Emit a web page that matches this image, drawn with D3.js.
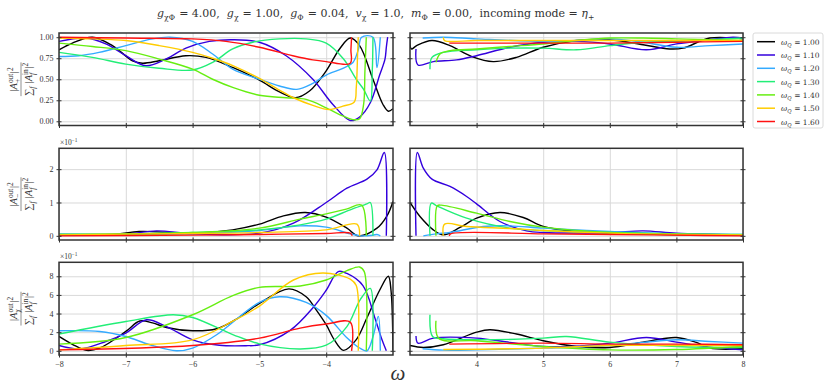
<!DOCTYPE html>
<html>
<head>
<meta charset="utf-8">
<script src="https://cdn.jsdelivr.net/npm/d3@7"></script>
<style>
  body { margin: 0; background: #fff; }
  text { font-family: "Liberation Serif", serif; fill: #333; white-space: pre; }
  .wide text { font-family: "DejaVu Serif", serif; }
</style>
</head>
<body>
<div id="chart"></div>
<script>
// scattering ratios vs omega, one curve per omega_Q

var omegaQ = ["1.00", "1.10", "1.20", "1.30", "1.40", "1.50", "1.60"];
var colors = ["#000000", "#3300dd", "#33aaff", "#22ee77", "#66ee11", "#ffcc00", "#ff1111"];

var leftTicks = [-8, -7, -6, -5, -4];
var rightTicks = [4, 5, 6, 7, 8];

// |A+out|^2 / sum |Ain|^2 , omega < 0
var plusLeft = [
  [[-8,0.85],[-7.8,0.93],[-7.5,1.0],[-7.2,0.9],[-6.9,0.72],[-6.75,0.69],[-6.5,0.72],[-6.1,0.78],[-5.8,0.76],[-5.4,0.64],[-5,0.49],[-4.7,0.35],[-4.46,0.28],[-4.25,0.36],[-4,0.6],[-3.8,0.86],[-3.64,0.99],[-3.5,0.9],[-3.3,0.5],[-3.15,0.2],[-3.07,0.12],[-3.0,0.15]],
  [[-8,0.95],[-7.6,0.99],[-7.3,0.92],[-7,0.78],[-6.7,0.66],[-6.4,0.74],[-6.1,0.87],[-5.75,0.95],[-5.4,0.97],[-5,0.94],[-4.6,0.78],[-4.2,0.5],[-3.9,0.2],[-3.64,0.01],[-3.5,0.05],[-3.34,0.22],[-3.2,0.55],[-3.12,0.74],[-3.1,0.88],[-3.08,1.0]],
  [[-8,0.77],[-7.7,0.78],[-7.4,0.82],[-7,0.9],[-6.6,0.98],[-6.34,1.0],[-6,0.95],[-5.7,0.8],[-5.4,0.62],[-5,0.5],[-4.7,0.42],[-4.44,0.38],[-4.2,0.45],[-4,0.55],[-3.75,0.63],[-3.6,0.7],[-3.52,0.85],[-3.47,1.0],[-3.3,1.0],[-3.24,0.64],[-3.19,1.0]],
  [[-8,0.82],[-7.5,0.76],[-7,0.68],[-6.5,0.63],[-6,0.61],[-5.7,0.7],[-5.4,0.86],[-5.1,0.94],[-4.7,0.98],[-4.3,0.98],[-4,0.93],[-3.74,0.74],[-3.55,0.5],[-3.44,0.38],[-3.34,0.24],[-3.31,0.6],[-3.3,1.0]],
  [[-8,0.93],[-7.5,0.89],[-7,0.84],[-6.5,0.74],[-6,0.62],[-5.7,0.5],[-5.39,0.4],[-5,0.31],[-4.6,0.28],[-4.3,0.26],[-4,0.16],[-3.8,0.08],[-3.6,0.02],[-3.5,0.03],[-3.44,0.2],[-3.42,0.6],[-3.4,1.0]],
  [[-8,0.99],[-7.5,0.98],[-7,0.96],[-6.5,0.9],[-6,0.82],[-5.7,0.75],[-5.39,0.66],[-5,0.51],[-4.7,0.37],[-4.49,0.28],[-4.2,0.19],[-3.96,0.14],[-3.75,0.18],[-3.58,0.23],[-3.55,0.4],[-3.53,0.8],[-3.52,1.0]],
  [[-8,1.0],[-7,0.99],[-6,0.98],[-5.5,0.95],[-5,0.88],[-4.5,0.78],[-4.2,0.73],[-4,0.71],[-3.64,0.69],[-3.63,0.85],[-3.62,1.0]]
];

// |A+out|^2 / sum |Ain|^2 , omega > 0
var plusRight = [
  [[3.0,1.0],[3.02,0.86],[3.1,0.9],[3.33,0.96],[3.6,0.9],[3.93,0.77],[4.25,0.71],[4.6,0.76],[5,0.88],[5.5,0.96],[6,0.97],[6.5,0.91],[6.9,0.86],[7.1,0.87],[7.5,0.99],[8,0.98]],
  [[3.09,0.86],[3.12,0.67],[3.35,0.71],[3.7,0.73],[4,0.78],[4.5,0.88],[5,0.94],[5.5,0.95],[6,0.92],[6.55,0.85],[7,0.92],[7.5,0.97],[7.85,1.0],[8,0.99]],
  [[3.19,0.99],[3.5,1.0],[4,0.98],[5,0.95],[5.5,0.96],[6,0.98],[6.5,0.94],[7,0.88],[7.5,0.9],[8,0.92]],
  [[3.3,0.62],[3.33,0.76],[3.5,0.82],[4,0.85],[4.5,0.87],[5,0.87],[5.5,0.85],[6,0.9],[6.5,0.94],[7,0.95],[7.5,0.97],[8,0.99]],
  [[3.39,0.7],[3.45,0.8],[3.6,0.84],[4,0.86],[4.5,0.89],[5,0.92],[5.5,0.96],[6,0.99],[6.5,0.99],[7,0.98],[7.5,0.97],[8,0.96]],
  [[3.5,1.0],[3.52,0.96],[4,0.96],[5,0.96],[6,0.96],[7,0.96],[8,0.96]],
  [[3.59,0.93],[4,0.93],[5,0.93],[6,0.93],[7,0.94],[8,0.95]]
];

// |A-out|^2 / sum |Ain|^2 (x 10^-1)
var minusLeft = [
  [[-8,0.02],[-7.2,0.04],[-6.8,0.13],[-6.4,0.11],[-6,0.08],[-5.4,0.18],[-5,0.35],[-4.64,0.6],[-4.31,0.7],[-4,0.56],[-3.69,0.23],[-3.52,0.0],[-3.24,0.23],[-3.09,0.6],[-3.0,1.03]],
  [[-8,0.02],[-7,0.05],[-6.54,0.15],[-6,0.06],[-5,0.08],[-4.49,0.38],[-4,1.0],[-3.69,1.43],[-3.39,1.7],[-3.24,1.98],[-3.13,2.5],[-3.1,0.0]],
  [[-8,0.06],[-6,0.06],[-5,0.16],[-4.39,0.3],[-4,0.26],[-3.64,0.06],[-3.48,0.0],[-3.3,0.02],[-3.24,0.04],[-3.19,0.0]],
  [[-8,0.04],[-7,0.05],[-6,0.1],[-5,0.18],[-4.39,0.33],[-4,0.5],[-3.64,0.78],[-3.39,0.96],[-3.34,1.0],[-3.3,0.0]],
  [[-8,0.04],[-7,0.06],[-6,0.1],[-5,0.23],[-4.39,0.5],[-4,0.66],[-3.7,0.8],[-3.47,0.92],[-3.4,0.0]],
  [[-8,0.03],[-7,0.05],[-6,0.07],[-5,0.1],[-4,0.18],[-3.54,0.35],[-3.5,0.0]],
  [[-8,0.0],[-6,0.02],[-5,0.04],[-4,0.07],[-3.64,0.08],[-3.61,0.0]]
];

var minusRight = [
  [[3.0,1.0],[3.15,0.58],[3.35,0.18],[3.5,0.03],[3.75,0.25],[4,0.53],[4.35,0.7],[4.7,0.55],[5,0.28],[5.5,0.13],[6,0.08],[7,0.03],[8,0.03]],
  [[3.09,0.0],[3.11,2.5],[3.2,2.03],[3.33,1.7],[3.6,1.48],[3.85,1.18],[4,0.96],[4.35,0.43],[4.75,0.15],[5,0.1],[6,0.1],[6.5,0.15],[7,0.08],[8,0.03]],
  [[3.2,0.0],[3.4,0.06],[3.6,0.1],[4.1,0.28],[4.5,0.3],[5,0.23],[6,0.13],[7,0.06],[8,0.04]],
  [[3.3,0.0],[3.32,0.98],[3.4,0.9],[3.85,0.53],[4.5,0.23],[5,0.16],[6,0.1],[7,0.06],[8,0.04]],
  [[3.39,0.0],[3.41,0.9],[3.47,0.92],[4,0.68],[4.5,0.43],[5,0.26],[6,0.1],[7,0.05],[8,0.03]],
  [[3.5,0.0],[3.52,0.35],[3.85,0.28],[4.5,0.22],[5,0.16],[6,0.08],[7,0.04],[8,0.03]],
  [[3.59,0.0],[3.61,0.06],[5,0.06],[6,0.04],[7,0.02],[8,0.0]]
];

// |Achi_out|^2 / sum |Ain|^2 (x 10^-1)
var chiLeft = [
  [[-8,1.54],[-7.8,0.7],[-7.59,0.05],[-7.39,0.3],[-7,2.08],[-6.79,3.2],[-6.6,3.0],[-6.39,2.5],[-6,2.15],[-5.64,2.37],[-5.3,3.6],[-5,5.1],[-4.56,6.65],[-4.3,5.8],[-4.15,4.4],[-4,2.8],[-3.88,1.2],[-3.74,0.05],[-3.55,1.2],[-3.39,3.55],[-3.2,6.5],[-3.07,8.0],[-3.03,6.5],[-3.0,0.0]],
  [[-8,0.57],[-7.69,0.2],[-7.3,1.0],[-7,1.9],[-6.69,3.33],[-6.39,2.6],[-6,1.18],[-5.6,0.6],[-5.2,0.55],[-5,0.65],[-4.54,2.2],[-4.19,4.7],[-4,6.5],[-3.82,8.5],[-3.69,8.3],[-3.45,7.0],[-3.27,3.5],[-3.17,1.3],[-3.1,0.0]],
  [[-8,2.15],[-7.39,2.08],[-7,1.54],[-6.64,0.65],[-6.24,0.0],[-6,0.29],[-5.64,1.72],[-5,5.2],[-4.7,5.8],[-4.3,5.2],[-4,3.8],[-3.69,1.4],[-3.5,0.3],[-3.39,0.0],[-3.3,1.5],[-3.22,3.7],[-3.19,0.0]],
  [[-8,1.8],[-7,3.15],[-6.29,3.87],[-6,3.58],[-5.39,1.72],[-5,0.75],[-4.39,0.2],[-4,0.6],[-3.69,2.6],[-3.49,5.5],[-3.34,6.7],[-3.31,0.0]],
  [[-8,0.72],[-7,1.43],[-6,3.87],[-5.39,5.95],[-5,6.81],[-4.39,6.95],[-4,7.6],[-3.69,8.6],[-3.5,9.0],[-3.43,8.5],[-3.4,0.0]],
  [[-8,0.1],[-7,0.57],[-6,1.18],[-5.39,3.2],[-5,4.8],[-4.49,7.6],[-4.05,8.35],[-3.64,7.7],[-3.55,7.0],[-3.52,0.0]],
  [[-8,0.1],[-6,0.57],[-5,1.36],[-4.39,2.44],[-4,2.87],[-3.64,3.08],[-3.62,0.0]]
];

var chiRight = [
  [[3.0,0.57],[3.2,0.36],[3.5,0.65],[4,2.0],[4.2,2.26],[4.6,1.8],[5,1.08],[5.5,0.47],[6,0.36],[6.5,0.93],[7,1.43],[7.3,0.9],[7.5,0.29],[8,0.22]],
  [[3.09,1.6],[3.12,0.82],[3.35,1.36],[4,1.36],[4.5,0.9],[5,0.47],[5.5,0.5],[6,0.82],[6.55,1.43],[7,0.93],[7.5,0.4],[8,0.1]],
  [[3.19,0.22],[3.5,0.07],[4,0.1],[5,0.29],[6,0.57],[6.5,0.9],[7,1.18],[7.5,1.0],[8,0.82]],
  [[3.3,3.87],[3.34,1.54],[3.5,1.29],[4,1.18],[5,1.36],[5.35,1.54],[6,0.93],[7,0.47],[8,0.36]],
  [[3.39,3.23],[3.43,1.36],[4,1.08],[5,0.47],[6,0.1],[7,0.14],[8,0.47]],
  [[3.5,0.14],[5,0.29],[6,0.57],[7,0.57],[8,0.57]],
  [[3.59,0.72],[5,0.82],[6,0.72],[7,0.72],[8,0.65]]
];

var W = 830, H = 391;

var svg = d3.select("#chart").append("svg")
  .attr("width", W)
  .attr("height", H);

// draws a little "math" string: parts are strings or {t, it} or {sup, sub}
function mathText(sel, x, y, parts, size, anchor) {
  var g = sel.append("g");
  var cx = 0;
  parts.forEach(function(p) {
    if (typeof p === "string") p = {t: p};
    if (p.sup != null || p.sub != null) {
      var w = 0;
      if (p.sup != null) {
        var t1 = g.append("text").attr("x", cx).attr("y", -size * 0.38)
          .style("font-size", (size * 0.7) + "px").text(p.sup);
        w = Math.max(w, t1.node().getComputedTextLength());
      }
      if (p.sub != null) {
        var t2 = g.append("text").attr("x", cx).attr("y", size * 0.28)
          .style("font-size", (size * 0.7) + "px").style("font-style", p.subIt ? "italic" : null).text(p.sub);
        w = Math.max(w, t2.node().getComputedTextLength());
      }
      cx += w + size * 0.05;
    } else {
      var t = g.append("text").attr("x", cx)
        .style("font-size", size + "px")
        .style("font-style", p.it ? "italic" : null)
        .text(p.t);
      cx += t.node().getComputedTextLength();
    }
  });
  var x0 = anchor === "middle" ? x - cx / 2 : x;
  g.attr("transform", "translate(" + x0 + "," + y + ")");
  return cx;
}

var xScales = [
  d3.scaleLinear().domain([-8, -3]).range([59, 393]),
  d3.scaleLinear().domain([3, 8]).range([410, 743])
];
var xTicks = [leftTicks, rightTicks];

var rows = [
  {top: 33, bottom: 125.5, domain: [-0.05, 1.05], ticks: [0, 0.25, 0.5, 0.75, 1], fmt: d3.format(".2f"), data: [plusLeft, plusRight], sub: "+", offset: false},
  {top: 148.3, bottom: 240, domain: [-0.125, 2.625], ticks: [0, 1, 2], fmt: d3.format("d"), data: [minusLeft, minusRight], sub: "\u2212", offset: true},
  {top: 262.3, bottom: 355, domain: [-0.45, 9.5], ticks: [0, 2, 4, 6, 8], fmt: d3.format("d"), data: [chiLeft, chiRight], sub: "\u03c7", offset: true}
];

var line = d3.line().curve(d3.curveCatmullRom.alpha(0.5));

rows.forEach(function(row, r) {
  var y = d3.scaleLinear().domain(row.domain).range([row.bottom, row.top]);
  var h = row.bottom - row.top;

  [0, 1].forEach(function(s) {
    var x = xScales[s];
    var x0 = x.range()[0], x1 = x.range()[1];
    var g = svg.append("g");

    // grid
    g.append("g")
      .attr("transform", "translate(0," + row.bottom + ")")
      .call(d3.axisBottom(x).tickValues(xTicks[s]).tickSize(-h).tickFormat(""))
      .call(function(a) { a.select(".domain").remove(); })
      .selectAll("line").attr("stroke", "#d9d9d9").attr("stroke-width", 1);
    g.append("g")
      .attr("transform", "translate(" + x0 + ",0)")
      .call(d3.axisLeft(y).tickValues(row.ticks).tickSize(-(x1 - x0)).tickFormat(""))
      .call(function(a) { a.select(".domain").remove(); })
      .selectAll("line").attr("stroke", "#d9d9d9").attr("stroke-width", 1);

    // curves
    var clipId = "clip" + r + "_" + s;
    g.append("clipPath").attr("id", clipId)
      .append("rect").attr("x", x0).attr("y", row.top).attr("width", x1 - x0).attr("height", h);

    g.append("g").attr("clip-path", "url(#" + clipId + ")")
      .selectAll("path")
      .data(row.data[s])
      .enter()
      .append("path")
        .attr("d", function(d) { return line(d.map(function(p) { return [x(p[0]), y(p[1])]; })); })
        .attr("fill", "none")
        .attr("stroke", function(d, i) { return colors[i]; })
        .attr("stroke-width", 1.4)
        .attr("stroke-linejoin", "round");

    // ticks (in-out)
    var left = g.append("g")
      .attr("transform", "translate(" + x0 + ",0)")
      .call(d3.axisLeft(y).tickValues(row.ticks).tickSize(2.5).tickPadding(3)
        .tickFormat(s === 0 ? row.fmt : function() { return ""; }));
    left.select(".domain").remove();
    left.selectAll("line").attr("x1", 2.5).attr("stroke", "#333");
    left.selectAll("text").style("font-size", "8px").style("font-family", "Liberation Serif, serif").attr("fill", "#444");

    var right = g.append("g")
      .attr("transform", "translate(" + x1 + ",0)")
      .call(d3.axisRight(y).tickValues(row.ticks).tickSize(2.5).tickFormat(""));
    right.select(".domain").remove();
    right.selectAll("line").attr("x1", -2.5).attr("stroke", "#333");

    var bottom = g.append("g")
      .attr("transform", "translate(0," + row.bottom + ")")
      .call(d3.axisBottom(x).tickValues(xTicks[s]).tickSize(2.5).tickPadding(4)
        .tickFormat(r === 2 ? d3.format("d") : function() { return ""; }));
    bottom.select(".domain").remove();
    bottom.selectAll("line").attr("y1", -2.5).attr("stroke", "#333");
    bottom.selectAll("text").style("font-size", "8px").style("font-family", "Liberation Serif, serif").attr("fill", "#444");

    // frame
    g.append("rect")
      .attr("x", x0).attr("y", row.top)
      .attr("width", x1 - x0).attr("height", h)
      .attr("fill", "none")
      .attr("stroke", "#333")
      .attr("stroke-width", 1.5);

    if (s === 0 && row.offset) {
      mathText(svg, 60, row.top - 3, ["\u00d710", {sup: "\u22121"}], 7.5, "start");
    }
  });

  // y label: fraction, rotated
  var lab = svg.append("g")
    .attr("transform", "translate(21," + (row.top + h / 2) + ") rotate(-90)");
  var wNum = mathText(lab, 0, -4, ["|", {t: "A", it: true}, {sup: "out", sub: row.sub}, "|", {sup: "2"}], 10.5, "middle");
  var wDen = mathText(lab, 0, 11, ["\u2211", {sub: "f", subIt: true}, " |", {t: "A", it: true}, {sup: "in", sub: "f", subIt: true}, "|", {sup: "2"}], 10.5, "middle");
  var wBar = Math.max(wNum, wDen);
  lab.append("line")
    .attr("x1", -wBar / 2).attr("x2", wBar / 2)
    .attr("y1", 0).attr("y2", 0)
    .attr("stroke", "#444").attr("stroke-width", 0.6);
});

// x label
svg.append("text")
  .attr("x", 398)
  .attr("y", 380)
  .attr("text-anchor", "middle")
  .style("font-size", "21px")
  .style("font-style", "italic")
  .text("\u03c9");

// title
var titleG = svg.append("g").attr("class", "wide");
mathText(titleG, 376, 17, [
  {t: "g", it: true}, {sub: "\u03c7\u03a6"}, " = 4.00,  ",
  {t: "g", it: true}, {sub: "\u03c7"}, " = 1.00,  ",
  {t: "g", it: true}, {sub: "\u03a6"}, " = 0.04,  ",
  {t: "v", it: true}, {sub: "\u03c7"}, " = 1.0,  ",
  {t: "m", it: true}, {sub: "\u03a6"}, " = 0.00,  incoming mode = ",
  {t: "\u03b7", it: true}, {sub: "+"}
], 11, "middle");

// legend
var legend = svg.append("g").attr("class", "wide");
legend.append("rect")
  .attr("x", 753).attr("y", 33)
  .attr("width", 70).attr("height", 95)
  .attr("rx", 2)
  .attr("fill", "#fff")
  .attr("stroke", "#d0d0d0")
  .attr("stroke-width", 0.8);

omegaQ.forEach(function(q, i) {
  var ly = 41.7 + i * 13.3;
  legend.append("line")
    .attr("x1", 757).attr("x2", 775)
    .attr("y1", ly).attr("y2", ly)
    .attr("stroke", colors[i])
    .attr("stroke-width", 1.5);
  mathText(legend, 781, ly + 3, [{t: "\u03c9", it: true}, {sub: "Q", subIt: true}, " = " + q], 7.5, "start");
});
</script>
</body>
</html>
